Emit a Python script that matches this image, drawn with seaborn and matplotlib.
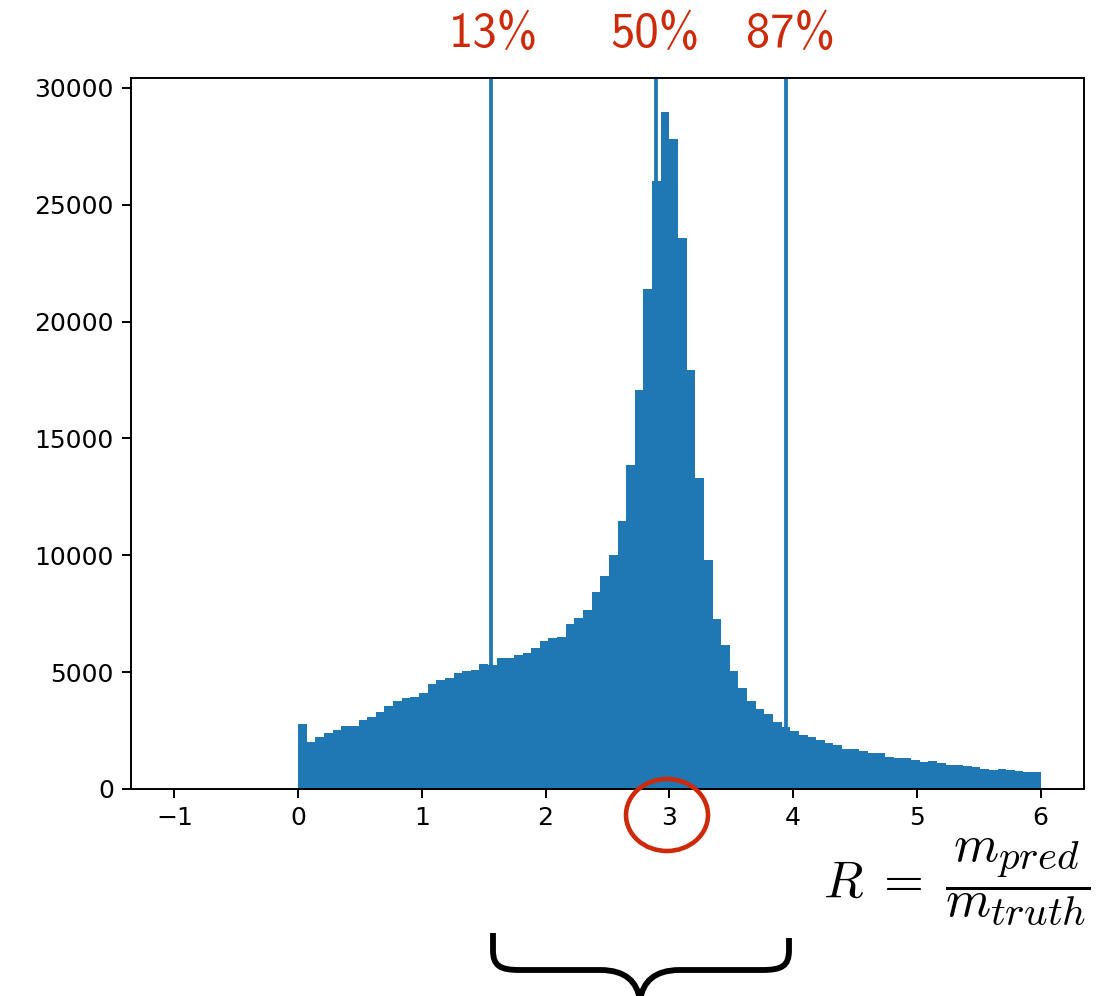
import numpy as np
import pandas as pd
import matplotlib
matplotlib.use("Agg")
import matplotlib.pyplot as plt
import seaborn as sns
from matplotlib.path import Path
from matplotlib.patches import PathPatch, Ellipse

try:
    import matplotlib._mathtext as _mt
    _mt.SHRINK_FACTOR = 0.8
except Exception:
    pass

# ---------------- data ----------------
counts = [2770, 2010, 2225, 2396, 2525, 2696, 2696, 2953, 3081, 3295,
          3551, 3765, 3894, 3937, 4122, 4493, 4664, 4750, 4964, 5040,
          5092, 5340, 5306, 5592, 5600, 5734, 5820, 6034, 6333, 6461,
          6504, 7060, 7320, 7659, 8430, 9114, 10013, 11470, 13860, 17073,
          21395, 26030, 28969, 27813, 23577, 17929, 13308, 9799, 7274, 6162,
          5049, 4322, 3765, 3423, 3209, 2867, 2653, 2482, 2311, 2225,
          2097, 1950, 1870, 1690, 1690, 1605, 1520, 1520, 1390, 1305,
          1305, 1262, 1134, 1177, 1091, 1048, 1006, 963, 920, 877,
          834, 877, 792, 749, 706, 706]
bin_lo, bin_hi = 0.0, 6.0
quantile_values = [1.555, 2.89, 3.94]
quantile_labels = ["13%", "50%", "87%"]
x_ticks = [-1, 0, 1, 2, 3, 4, 5, 6]
y_ticks = [0, 5000, 10000, 15000, 20000, 25000, 30000]
formula = r"$R\;=\;\dfrac{m_{pred}}{m_{truth}}$"

edges = np.linspace(bin_lo, bin_hi, len(counts) + 1)
centers = (edges[:-1] + edges[1:]) / 2
df = pd.DataFrame({"R": centers, "count": counts})

# ---------------- figure ----------------
W, H = 1110, 996
plt.rcParams["mathtext.fontset"] = "cm"
fig = plt.figure(figsize=(W / 100, H / 100), dpi=100)
fig.patch.set_facecolor("white")

def fx(px):
    return px / W

def fy(py):
    return 1 - py / H

ax = fig.add_axes([fx(131), fy(789), fx(1084) - fx(131), fy(78) - fy(789)])
sns.histplot(data=df, x="R", weights="count", bins=len(counts),
             binrange=(bin_lo, bin_hi), color="#1f77b4",
             alpha=1, linewidth=0, edgecolor="none", ax=ax)
for v in quantile_values:
    ax.axvline(v, color="#1f77b4", lw=2.7)

ax.set_xlim(-1.35, 6.35)
ax.set_ylim(0, max(counts) * 1.05)
ax.set_xticks(x_ticks)
ax.set_yticks(y_ticks)
ax.set_xlabel("")
ax.set_ylabel("")
ax.tick_params(labelsize=18, length=6.3, width=1.4, color="black",
               labelcolor="black", pad=6)
for s in ax.spines.values():
    s.set_linewidth(1.4)
    s.set_color("black")

red = "#CC2A0A"
# percentile labels
label_px = [493, 655, 791]
for lab, px in zip(quantile_labels, label_px):
    fig.text(fx(px), fy(34), lab, color=red, fontsize=35, ha="center", va="center",
             family=["cmss10", "DejaVu Sans"])

# formula
fig.text(fx(823), fy(882), formula, fontsize=37, ha="left", va="center", color="black")

# circle around tick "3"
fig.patches.append(Ellipse((fx(667), fy(815)), 82 / W, 72 / H, fill=False,
                           edgecolor=red, lw=3.3, transform=fig.transFigure))

# brace
def P(x, y):
    return (fx(x), fy(y))

verts = [P(493, 933), P(493, 950), P(493, 966), P(500, 970), P(520, 970),
         P(600, 970), P(626, 970), P(637, 982), P(640, 1000),
         P(789, 938), P(789, 950), P(789, 966), P(782, 970), P(762, 970),
         P(680, 970), P(654, 970), P(643, 982), P(640, 1000)]
codes = [Path.MOVETO, Path.LINETO, Path.CURVE4, Path.CURVE4, Path.CURVE4,
         Path.LINETO, Path.CURVE4, Path.CURVE4, Path.CURVE4,
         Path.MOVETO, Path.LINETO, Path.CURVE4, Path.CURVE4, Path.CURVE4,
         Path.LINETO, Path.CURVE4, Path.CURVE4, Path.CURVE4]
fig.patches.append(PathPatch(Path(verts, codes), fill=False, edgecolor="black",
                             lw=4.2, capstyle="butt", joinstyle="round",
                             transform=fig.transFigure))

fig.savefig("out.png", dpi=100, facecolor="white")
